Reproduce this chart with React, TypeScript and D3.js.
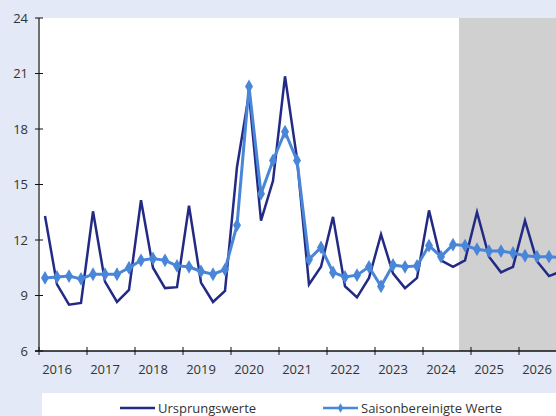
import React, { useRef, useEffect } from 'react';
import * as d3 from 'd3';

const years = [2016, 2017, 2018, 2019, 2020, 2021, 2022, 2023, 2024, 2025, 2026];
const yTicks = [6, 9, 12, 15, 18, 21, 24];
const forecastStart = 2024.75;

// quarterly values, 2016 Q1 .. 2026 Q4
const ursprung = [
  13.3, 9.6, 8.5, 8.6, 13.55, 9.75, 8.65, 9.3, 14.15, 10.5, 9.4, 9.45,
  13.85, 9.7, 8.65, 9.25, 15.95, 19.9, 13.05, 15.2, 20.85, 16.4, 9.6, 10.55,
  13.25, 9.5, 8.9, 9.95, 12.3, 10.2, 9.4, 9.95, 13.6, 10.9, 10.55, 10.9,
  13.5, 11.1, 10.25, 10.55, 13.05, 10.85, 10.05, 10.3
];
const saison = [
  9.95, 10.0, 10.05, 9.9, 10.15, 10.15, 10.15, 10.5, 10.9, 11.0, 10.9, 10.6,
  10.55, 10.3, 10.15, 10.4, 12.8, 20.3, 14.5, 16.3, 17.85, 16.3, 10.95, 11.6,
  10.25, 10.0, 10.1, 10.55, 9.5, 10.65, 10.55, 10.6, 11.7, 11.1, 11.75, 11.7,
  11.5, 11.4, 11.4, 11.3, 11.15, 11.1, 11.1, 11.05
];

const W = 556;
const H = 416;
const FONT = "'Open Sans', sans-serif";

const App: React.FC = () => {
  const ref = useRef<SVGSVGElement>(null);

  useEffect(() => {
    document.body.style.margin = '0';
    if (!ref.current) return;
    const svg = d3.select(ref.current);
    svg.selectAll('*').remove();

    const x = d3.scaleLinear().domain([2016, 2027]).range([39, 567]);
    const y = d3.scaleLinear().domain([6, 24]).range([351, 18]);
    const qx = (i: number) => x(2016 + (i + 0.5) / 4);

    svg.append('rect').attr('width', W).attr('height', H).attr('fill', '#e3e9f6');

    // plot area + forecast shade
    svg.append('rect')
      .attr('x', x(2016)).attr('y', y(24))
      .attr('width', x(2027) - x(2016)).attr('height', y(6) - y(24))
      .attr('fill', '#fff');
    svg.append('rect')
      .attr('x', x(forecastStart)).attr('y', y(24))
      .attr('width', x(2027) - x(forecastStart)).attr('height', y(6) - y(24))
      .attr('fill', '#d0d0d0');

    // y axis
    svg.append('line')
      .attr('x1', x(2016)).attr('x2', x(2016))
      .attr('y1', y(24)).attr('y2', y(6))
      .attr('stroke', '#707070').attr('stroke-width', 2);
    yTicks.forEach(t => {
      svg.append('line')
        .attr('x1', x(2016) - 4).attr('x2', x(2016) + 4)
        .attr('y1', y(t)).attr('y2', y(t))
        .attr('stroke', '#111').attr('stroke-width', 1);
      svg.append('text')
        .attr('x', 28).attr('y', y(t) + 4.5)
        .attr('text-anchor', 'end')
        .attr('font-family', FONT).attr('font-size', 13)
        .attr('fill', '#333')
        .text(t);
    });

    // x axis
    svg.append('line')
      .attr('x1', x(2016) - 4).attr('x2', W)
      .attr('y1', y(6)).attr('y2', y(6))
      .attr('stroke', '#111').attr('stroke-width', 1.5);
    years.forEach(yr => {
      svg.append('line')
        .attr('x1', x(yr)).attr('x2', x(yr))
        .attr('y1', y(6) - 4).attr('y2', y(6) + 4)
        .attr('stroke', '#111').attr('stroke-width', 1);
      svg.append('text')
        .attr('x', x(yr + 0.375)).attr('y', 374)
        .attr('text-anchor', 'middle')
        .attr('font-family', FONT).attr('font-size', 13)
        .attr('fill', '#333')
        .text(yr);
    });

    const line = d3.line<number>().x((_, i) => qx(i)).y(d => y(d));

    svg.append('path')
      .datum(ursprung)
      .attr('d', line)
      .attr('fill', 'none')
      .attr('stroke', '#222a84')
      .attr('stroke-width', 2.5)
      .attr('stroke-linejoin', 'miter');

    svg.append('path')
      .datum(saison)
      .attr('d', line)
      .attr('fill', 'none')
      .attr('stroke', '#4a86d8')
      .attr('stroke-width', 3);

    const diamond = d3.symbol().type(d3.symbolDiamond).size(55);
    svg.selectAll('.mk')
      .data(saison)
      .enter().append('path')
      .attr('class', 'mk')
      .attr('d', diamond)
      .attr('transform', (d, i) => `translate(${qx(i)},${y(d)})`)
      .attr('fill', '#4a86d8');

    // legend
    svg.append('rect')
      .attr('x', 42).attr('y', 393).attr('width', W - 42).attr('height', H - 393)
      .attr('fill', '#fff');
    svg.append('line')
      .attr('x1', 120).attr('x2', 155).attr('y1', 408).attr('y2', 408)
      .attr('stroke', '#222a84').attr('stroke-width', 2.5);
    svg.append('text')
      .attr('x', 158).attr('y', 413)
      .attr('font-family', FONT).attr('font-size', 13).attr('fill', '#333')
      .text('Ursprungswerte');
    svg.append('line')
      .attr('x1', 323).attr('x2', 358).attr('y1', 408).attr('y2', 408)
      .attr('stroke', '#4a86d8').attr('stroke-width', 2.5);
    svg.append('path')
      .attr('d', d3.symbol().type(d3.symbolDiamond).size(25))
      .attr('transform', 'translate(340.5,408)')
      .attr('fill', '#4a86d8');
    svg.append('text')
      .attr('x', 361).attr('y', 413)
      .attr('font-family', FONT).attr('font-size', 13).attr('fill', '#333')
      .text('Saisonbereinigte Werte');
  }, []);

  return <svg ref={ref} width={W} height={H} style={{ display: 'block' }}></svg>;
};

export default App;
